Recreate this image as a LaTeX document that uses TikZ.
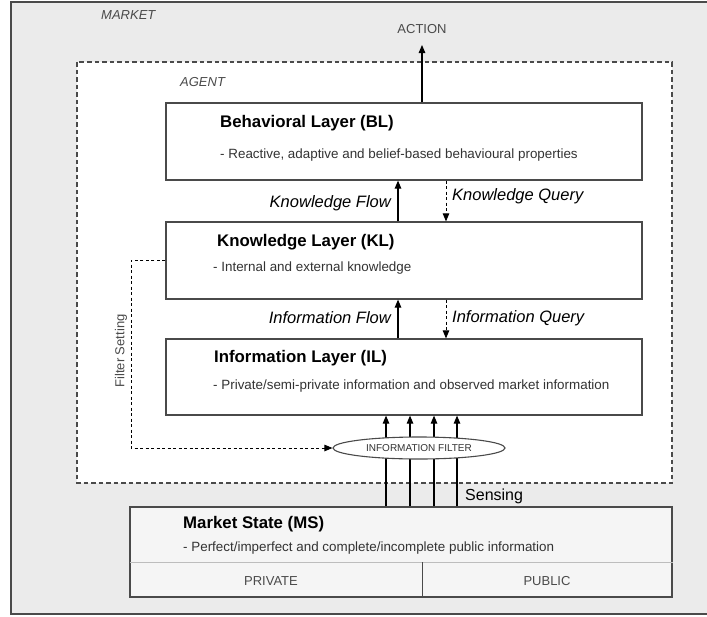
\documentclass[tikz,border=0pt]{standalone}
\usepackage{fontspec}
\setmainfont{Liberation Sans}
\usetikzlibrary{positioning,shapes.geometric,arrows.meta}

\definecolor{marketgray}{HTML}{EBEBEB}
\definecolor{msgray}{HTML}{F5F5F5}
\definecolor{linegray}{HTML}{4A4A4A}
\definecolor{subgray}{HTML}{333333}
\definecolor{divgray}{HTML}{BDBDBD}

\begin{document}
\begin{tikzpicture}[x=1pt,y=-1pt,
    layer/.style={draw=linegray, line width=1.2pt, fill=white, minimum width=476pt, minimum height=77pt, inner sep=0pt},
    title/.style={font=\fontsize{16.8}{19}\selectfont\bfseries, anchor=west, inner sep=0pt},
    sub/.style={font=\fontsize{13.4}{15}\selectfont, text=subgray, anchor=west, inner sep=0pt},
    flowlbl/.style={font=\fontsize{16.5}{18}\selectfont\itshape, inner sep=0pt},
    caplbl/.style={font=\fontsize{13}{15}\selectfont, text=linegray, inner sep=0pt},
    arr/.style={line width=1.1pt, -{Triangle[length=8pt,width=6.5pt]}},
    qarr/.style={line width=0.9pt, dash pattern=on 3pt off 2.5pt, -{Triangle[length=8pt,width=6.5pt]}}]
    \useasboundingbox (0,0) rectangle (707,616);
    % market and agent frames
    \draw[draw=linegray, line width=1.5pt, fill=marketgray] (11,2) rectangle (720,614);
    \draw[draw=linegray, line width=1.1pt, fill=white, dash pattern=on 4.5pt off 3pt] (77,62) rectangle (672,483);
    \node[caplbl, font=\fontsize{13}{15}\selectfont\itshape, anchor=west] (market) at (101,15) {MARKET};
    \node[caplbl, font=\fontsize{13}{15}\selectfont\itshape, anchor=west] (agent) at (180,82) {AGENT};

    % layers
    \node[layer] (bl) at (404,141.5) {};
    \node[layer] (kl) at (404,260.5) {};
    \node[layer, minimum height=76pt] (il) at (404,377) {};
    \node[title] (bltitle) at (220,123) {Behavioral Layer (BL)};
    \node[sub] (blsub) at (220,155) {- Reactive, adaptive and belief-based behavioural properties};
    \node[title] (kltitle) at (217,242) {Knowledge Layer (KL)};
    \node[sub] (klsub) at (213,268) {- Internal and external knowledge};
    \node[title] (iltitle) at (214,358) {Information Layer (IL)};
    \node[sub] (ilsub) at (213,386) {- Private/semi-private information and observed market information};

    % action
    \node[caplbl] (action) at (422,29) {ACTION};
    \coordinate (acttip) at (422,45);
    \draw[arr] (bl.north -| action) -- (acttip);

    % flows and queries
    \coordinate (fx) at (398,0);
    \coordinate (qx) at (446,0);
    \draw[arr] (kl.north -| fx) -- (bl.south -| fx);
    \draw[qarr] (bl.south -| qx) -- (kl.north -| qx);
    \draw[arr] (il.north -| fx) -- (kl.south -| fx);
    \draw[qarr] (kl.south -| qx) -- (il.north -| qx);
    \node[flowlbl, anchor=east] (kflow) at (391,203) {Knowledge Flow};
    \node[flowlbl, anchor=west] (kquery) at (452,196) {Knowledge Query};
    \node[flowlbl, anchor=east] (iflow) at (391,318) {Information Flow};
    \node[flowlbl, anchor=west] (iquery) at (452,318) {Information Query};

    % market state
    \node[draw=linegray, line width=1.2pt, fill=msgray, minimum width=542pt, minimum height=90pt, inner sep=0pt] (ms) at (401,552) {};
    \coordinate (divl) at (130,562);
    \coordinate (divm) at (422,562);
    \draw[divgray, line width=1pt] (divl) -- (divl -| ms.east);
    \draw[linegray, line width=1pt] (divm) -- (divm |- ms.south);
    \node[title] (mstitle) at (183,524) {Market State (MS)};
    \node[sub] (mssub) at (183,548) {- Perfect/imperfect and complete/incomplete public information};
    \node[caplbl] (private) at (271,581) {PRIVATE};
    \node[caplbl] (public) at (547,581) {PUBLIC};

    % sensing through the filter
    \foreach \sx in {386,410,434,457} {
        \coordinate (s) at (\sx,0);
        \draw[arr] (ms.north -| s) -- (il.south -| s);
    }
    \node[ellipse, draw=linegray, line width=1.1pt, fill=white, minimum width=172pt, minimum height=22pt, inner sep=0pt,
          font=\fontsize{10}{12}\selectfont, text=subgray] (filter) at (419,448) {INFORMATION FILTER};
    \node[font=\fontsize{16}{18}\selectfont, anchor=west, inner sep=0pt] (sensing) at (465,496) {Sensing};

    % filter setting
    \coordinate (fsbend) at (131,448);
    \draw[qarr] (kl.west) -| (fsbend) -- (filter.west);
    \node[caplbl, rotate=90] (fslbl) at (121,351) {Filter Setting};
\end{tikzpicture}
\end{document}
